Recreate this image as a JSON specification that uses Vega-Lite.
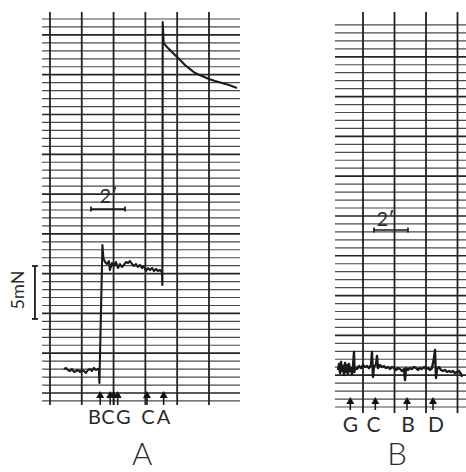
{
  "$schema": "https://vega.github.io/schema/vega-lite/v6.json",
  "background": "white",
  "padding": {"left": 10, "top": 11, "right": 0, "bottom": 0},
  "spacing": 95,
  "bounds": "flush",
  "config": {
    "view": {"stroke": null},
    "text": {"font": "Lato", "fontWeight": 400, "color": "#2a2a2a"}
  },
  "datasets": {
    "vA": [{"t": 2}, {"t": 4}, {"t": 6}, {"t": 8}, {"t": 10}, {"t": 12}],
    "vB": [{"t": 2}, {"t": 4}, {"t": 6}, {"t": 8}],
    "hA": [
      {"f": 0, "kind": "minor"}, {"f": 0.75, "kind": "major"}, {"f": 1.5, "kind": "minor"}, {"f": 2.25, "kind": "minor"}, {"f": 3, "kind": "minor"},
      {"f": 3.75, "kind": "minor"}, {"f": 4.5, "kind": "major"}, {"f": 5.25, "kind": "minor"}, {"f": 6, "kind": "minor"}, {"f": 6.75, "kind": "minor"},
      {"f": 7.5, "kind": "minor"}, {"f": 8.25, "kind": "major"}, {"f": 9, "kind": "minor"}, {"f": 9.75, "kind": "minor"}, {"f": 10.5, "kind": "minor"},
      {"f": 11.25, "kind": "minor"}, {"f": 12, "kind": "major"}, {"f": 12.75, "kind": "minor"}, {"f": 13.5, "kind": "minor"}, {"f": 14.25, "kind": "minor"},
      {"f": 15, "kind": "minor"}, {"f": 15.75, "kind": "major"}, {"f": 16.5, "kind": "minor"}, {"f": 17.25, "kind": "minor"}, {"f": 18, "kind": "minor"},
      {"f": 18.75, "kind": "minor"}, {"f": 19.5, "kind": "major"}, {"f": 20.25, "kind": "minor"}, {"f": 21, "kind": "minor"}, {"f": 21.75, "kind": "minor"},
      {"f": 22.5, "kind": "minor"}, {"f": 23.25, "kind": "major"}, {"f": 24, "kind": "minor"}, {"f": 24.75, "kind": "minor"}, {"f": 25.5, "kind": "minor"},
      {"f": 26.25, "kind": "minor"}, {"f": 27, "kind": "major"}, {"f": 27.75, "kind": "minor"}, {"f": 28.5, "kind": "minor"}, {"f": 29.25, "kind": "minor"},
      {"f": 30, "kind": "minor"}, {"f": 30.75, "kind": "major"}, {"f": 31.5, "kind": "minor"}, {"f": 32.25, "kind": "minor"}, {"f": 33, "kind": "minor"},
      {"f": 33.75, "kind": "minor"}, {"f": 34.5, "kind": "major"}, {"f": 35.25, "kind": "minor"}, {"f": 36, "kind": "minor"}
    ],
    "hB": [
      {"f": 0, "kind": "minor"}, {"f": 0.75, "kind": "minor"}, {"f": 1.5, "kind": "minor"}, {"f": 2.25, "kind": "minor"}, {"f": 3, "kind": "major"},
      {"f": 3.75, "kind": "minor"}, {"f": 4.5, "kind": "minor"}, {"f": 5.25, "kind": "minor"}, {"f": 6, "kind": "minor"}, {"f": 6.75, "kind": "major"},
      {"f": 7.5, "kind": "minor"}, {"f": 8.25, "kind": "minor"}, {"f": 9, "kind": "minor"}, {"f": 9.75, "kind": "minor"}, {"f": 10.5, "kind": "major"},
      {"f": 11.25, "kind": "minor"}, {"f": 12, "kind": "minor"}, {"f": 12.75, "kind": "minor"}, {"f": 13.5, "kind": "minor"}, {"f": 14.25, "kind": "major"},
      {"f": 15, "kind": "minor"}, {"f": 15.75, "kind": "minor"}, {"f": 16.5, "kind": "minor"}, {"f": 17.25, "kind": "minor"}, {"f": 18, "kind": "major"},
      {"f": 18.75, "kind": "minor"}, {"f": 19.5, "kind": "minor"}, {"f": 20.25, "kind": "minor"}, {"f": 21, "kind": "minor"}, {"f": 21.75, "kind": "major"},
      {"f": 22.5, "kind": "minor"}, {"f": 23.25, "kind": "minor"}, {"f": 24, "kind": "minor"}, {"f": 24.75, "kind": "minor"}, {"f": 25.5, "kind": "major"},
      {"f": 26.25, "kind": "minor"}, {"f": 27, "kind": "minor"}, {"f": 27.75, "kind": "minor"}, {"f": 28.5, "kind": "minor"}, {"f": 29.25, "kind": "major"},
      {"f": 30, "kind": "minor"}, {"f": 30.75, "kind": "minor"}, {"f": 31.5, "kind": "minor"}, {"f": 32.25, "kind": "minor"}, {"f": 33, "kind": "major"},
      {"f": 33.75, "kind": "minor"}, {"f": 34.5, "kind": "minor"}, {"f": 35.25, "kind": "minor"}, {"f": 36, "kind": "minor"}
    ]
  },
  "hconcat": [
    {
      "width": 198,
      "height": 393,
      "layer": [
        {
          "data": {"name": "hA"},
          "transform": [{"filter": "datum.kind == 'minor'"}],
          "mark": {"type": "rule", "color": "#4a4a4a", "strokeWidth": 1.2},
          "encoding": {"y": {"field": "f", "type": "quantitative", "scale": {"domain": [-0.38, 36.66], "nice": false, "zero": false}, "axis": null}}
        },
        {
          "data": {"name": "hA"},
          "transform": [{"filter": "datum.kind == 'major'"}],
          "mark": {"type": "rule", "color": "#252525", "strokeWidth": 1.7},
          "encoding": {"y": {"field": "f", "type": "quantitative", "axis": null}}
        },
        {
          "data": {"name": "vA"},
          "mark": {"type": "rule", "color": "#222222", "strokeWidth": 1.8},
          "encoding": {"x": {"field": "t", "type": "quantitative", "scale": {"domain": [1.5, 13.95], "nice": false, "zero": false}, "axis": null}}
        },
        {
          "data": {"values": [
            {"t": 2.88, "f": 3.02}, {"t": 3.01, "f": 3.11}, {"t": 3.13, "f": 2.92}, {"t": 3.26, "f": 2.83},
            {"t": 3.38, "f": 3.02}, {"t": 3.51, "f": 2.73}, {"t": 3.64, "f": 2.83}, {"t": 3.76, "f": 2.92},
            {"t": 3.89, "f": 2.73}, {"t": 4.01, "f": 2.92}, {"t": 4.14, "f": 2.83}, {"t": 4.26, "f": 2.64},
            {"t": 4.39, "f": 2.92}, {"t": 4.52, "f": 3.02}, {"t": 4.64, "f": 2.83}, {"t": 4.77, "f": 3.11},
            {"t": 4.89, "f": 2.92}, {"t": 5.02, "f": 3.02}, {"t": 5.08, "f": 2.92}, {"t": 5.11, "f": 1.70},
            {"t": 5.30, "f": 14.70}, {"t": 5.36, "f": 13.47}, {"t": 5.46, "f": 13.10}, {"t": 5.58, "f": 12.91},
            {"t": 5.71, "f": 13.19}, {"t": 5.77, "f": 12.34}, {"t": 5.90, "f": 13.00}, {"t": 6.03, "f": 12.72},
            {"t": 6.15, "f": 13.10}, {"t": 6.28, "f": 12.53}, {"t": 6.40, "f": 12.91}, {"t": 6.53, "f": 12.63},
            {"t": 6.65, "f": 12.82}, {"t": 6.78, "f": 13.10}, {"t": 6.91, "f": 13.00}, {"t": 7.03, "f": 13.19},
            {"t": 7.16, "f": 12.91}, {"t": 7.28, "f": 12.72}, {"t": 7.41, "f": 12.91}, {"t": 7.53, "f": 12.63},
            {"t": 7.66, "f": 12.82}, {"t": 7.79, "f": 12.53}, {"t": 7.91, "f": 12.72}, {"t": 8.04, "f": 12.25},
            {"t": 8.16, "f": 12.53}, {"t": 8.29, "f": 12.34}, {"t": 8.42, "f": 12.53}, {"t": 8.54, "f": 12.25},
            {"t": 8.67, "f": 12.44}, {"t": 8.79, "f": 12.25}, {"t": 8.92, "f": 12.34}, {"t": 9.04, "f": 12.15},
            {"t": 9.07, "f": 10.93}, {"t": 9.09, "f": 35.71}, {"t": 9.15, "f": 33.73}, {"t": 9.42, "f": 33.26},
            {"t": 9.86, "f": 32.60}, {"t": 10.18, "f": 32.13}, {"t": 10.49, "f": 31.66}, {"t": 10.81, "f": 31.28},
            {"t": 11.12, "f": 30.91}, {"t": 11.56, "f": 30.62}, {"t": 12.00, "f": 30.34}, {"t": 12.38, "f": 30.15},
            {"t": 12.82, "f": 29.96}, {"t": 13.26, "f": 29.77}, {"t": 13.76, "f": 29.49}
          ]},
          "mark": {"type": "line", "color": "#1a1a1a", "strokeWidth": 2.1, "strokeJoin": "round"},
          "encoding": {"x": {"field": "t", "type": "quantitative", "axis": null}, "y": {"field": "f", "type": "quantitative", "axis": null}}
        },
        {
          "data": {"values": [{"t": 5.16}, {"t": 5.79}, {"t": 6.01}, {"t": 6.26}, {"t": 8.10}, {"t": 9.15}]},
          "mark": {"type": "rule", "color": "#1a1a1a", "strokeWidth": 1.6},
          "encoding": {"x": {"field": "t", "type": "quantitative", "axis": null}, "y": {"datum": 0.47, "type": "quantitative", "axis": null}, "y2": {"datum": -0.38}}
        },
        {
          "data": {"values": [{"t": 5.16}, {"t": 5.79}, {"t": 6.01}, {"t": 6.26}, {"t": 8.10}, {"t": 9.15}]},
          "mark": {"type": "point", "shape": "triangle-up", "filled": true, "size": 65, "color": "#111111", "opacity": 1},
          "encoding": {"x": {"field": "t", "type": "quantitative", "axis": null}, "y": {"datum": 0.62, "type": "quantitative", "axis": null}}
        },
        {
          "data": {"values": [{"t": 4.80, "label": "B"}, {"t": 5.65, "label": "C"}, {"t": 6.62, "label": "G"}, {"t": 8.16, "label": "C"}, {"t": 9.14, "label": "A"}]},
          "mark": {"type": "text", "fontSize": 20, "baseline": "alphabetic", "align": "center"},
          "encoding": {"x": {"field": "t", "type": "quantitative", "axis": null}, "y": {"datum": -2.17, "type": "quantitative", "axis": null}, "text": {"field": "label"}}
        },
        {
          "data": {"values": [{"panel": "A"}]},
          "mark": {"type": "text", "fontSize": 31, "fontWeight": 300, "baseline": "bottom", "align": "center"},
          "encoding": {"x": {"datum": 7.79, "type": "quantitative", "axis": null}, "y": {"datum": -6.69, "type": "quantitative", "axis": null}, "text": {"field": "panel"}}
        },
        {
          "data": {"values": [{"t": 4.58, "t2": 6.72}]},
          "mark": {"type": "rule", "color": "#1a1a1a", "strokeWidth": 1.7},
          "encoding": {"x": {"field": "t", "type": "quantitative", "axis": null}, "x2": {"field": "t2"}, "y": {"datum": 18.09, "type": "quantitative", "axis": null}}
        },
        {
          "data": {"values": [{"t": 4.58}, {"t": 6.72}]},
          "mark": {"type": "rule", "color": "#1a1a1a", "strokeWidth": 1.7},
          "encoding": {"x": {"field": "t", "type": "quantitative", "axis": null}, "y": {"datum": 18.33, "type": "quantitative", "axis": null}, "y2": {"datum": 17.85}}
        },
        {
          "data": {"values": [{"t": 5.68, "label": "2′"}]},
          "mark": {"type": "text", "fontSize": 20, "baseline": "alphabetic", "align": "center"},
          "encoding": {"x": {"field": "t", "type": "quantitative", "axis": null}, "y": {"datum": 18.66, "type": "quantitative", "axis": null}, "text": {"field": "label"}}
        },
        {
          "data": {"values": [{"f": 12.72, "f2": 7.73}]},
          "mark": {"type": "rule", "color": "#1a1a1a", "strokeWidth": 1.8},
          "encoding": {"x": {"datum": 1.057, "type": "quantitative", "axis": null}, "y": {"field": "f", "type": "quantitative", "axis": null}, "y2": {"field": "f2"}}
        },
        {
          "data": {"values": [{"f": 12.72}, {"f": 7.73}]},
          "mark": {"type": "rule", "color": "#1a1a1a", "strokeWidth": 1.8},
          "encoding": {"x": {"datum": 0.87, "type": "quantitative", "axis": null}, "x2": {"datum": 1.245}, "y": {"field": "f", "type": "quantitative", "axis": null}}
        },
        {
          "data": {"values": [{"label": "5mN"}]},
          "mark": {"type": "text", "fontSize": 18, "baseline": "middle", "align": "center", "angle": 270},
          "encoding": {"x": {"datum": 0.082, "type": "quantitative", "axis": null}, "y": {"datum": 10.46, "type": "quantitative", "axis": null}, "text": {"field": "label"}}
        }
      ]
    },
    {
      "width": 132,
      "height": 401,
      "layer": [
        {
          "data": {"name": "hB"},
          "transform": [{"filter": "datum.kind == 'minor'"}],
          "mark": {"type": "rule", "color": "#4a4a4a", "strokeWidth": 1.2},
          "encoding": {"y": {"field": "f", "type": "quantitative", "scale": {"domain": [-0.565, 37.22], "nice": false, "zero": false}, "axis": null}}
        },
        {
          "data": {"name": "hB"},
          "transform": [{"filter": "datum.kind == 'major'"}],
          "mark": {"type": "rule", "color": "#252525", "strokeWidth": 1.7},
          "encoding": {"y": {"field": "f", "type": "quantitative", "axis": null}}
        },
        {
          "data": {"name": "vB"},
          "mark": {"type": "rule", "color": "#222222", "strokeWidth": 1.8},
          "encoding": {"x": {"field": "t", "type": "quantitative", "scale": {"domain": [0.222, 8.603], "nice": false, "zero": false}, "axis": null}}
        },
        {
          "data": {"values": [
            {"t": 0.413, "f": 3.49}, {"t": 0.476, "f": 4.05}, {"t": 0.540, "f": 3.20}, {"t": 0.603, "f": 4.24},
            {"t": 0.667, "f": 3.39}, {"t": 0.730, "f": 3.86}, {"t": 0.794, "f": 3.02}, {"t": 0.857, "f": 4.15},
            {"t": 0.921, "f": 3.30}, {"t": 0.984, "f": 3.96}, {"t": 1.048, "f": 3.11}, {"t": 1.111, "f": 4.05},
            {"t": 1.175, "f": 3.39}, {"t": 1.238, "f": 3.67}, {"t": 1.302, "f": 3.02}, {"t": 1.365, "f": 3.86},
            {"t": 1.429, "f": 5.18}, {"t": 1.460, "f": 3.30}, {"t": 1.492, "f": 3.77}, {"t": 1.619, "f": 3.58},
            {"t": 1.746, "f": 3.86}, {"t": 1.873, "f": 3.67}, {"t": 2.000, "f": 3.96}, {"t": 2.127, "f": 3.77},
            {"t": 2.254, "f": 3.86}, {"t": 2.381, "f": 3.67}, {"t": 2.508, "f": 3.96}, {"t": 2.571, "f": 5.18},
            {"t": 2.635, "f": 2.83}, {"t": 2.698, "f": 3.86}, {"t": 2.825, "f": 3.96}, {"t": 2.889, "f": 4.81},
            {"t": 2.952, "f": 3.67}, {"t": 3.079, "f": 3.96}, {"t": 3.206, "f": 3.77}, {"t": 3.333, "f": 3.86},
            {"t": 3.460, "f": 3.67}, {"t": 3.587, "f": 3.77}, {"t": 3.714, "f": 3.58}, {"t": 3.841, "f": 3.77},
            {"t": 3.968, "f": 3.67}, {"t": 4.095, "f": 3.49}, {"t": 4.222, "f": 3.67}, {"t": 4.349, "f": 3.58},
            {"t": 4.476, "f": 3.39}, {"t": 4.603, "f": 3.58}, {"t": 4.667, "f": 2.54}, {"t": 4.730, "f": 3.67},
            {"t": 4.857, "f": 3.49}, {"t": 4.984, "f": 3.67}, {"t": 5.111, "f": 3.58}, {"t": 5.238, "f": 3.77},
            {"t": 5.365, "f": 3.67}, {"t": 5.492, "f": 3.49}, {"t": 5.619, "f": 3.67}, {"t": 5.746, "f": 3.58},
            {"t": 5.873, "f": 3.77}, {"t": 6.000, "f": 3.58}, {"t": 6.127, "f": 3.67}, {"t": 6.254, "f": 3.49},
            {"t": 6.381, "f": 3.67}, {"t": 6.508, "f": 4.62}, {"t": 6.571, "f": 5.37}, {"t": 6.635, "f": 2.73},
            {"t": 6.698, "f": 3.58}, {"t": 6.825, "f": 3.77}, {"t": 6.952, "f": 3.49}, {"t": 7.079, "f": 3.39},
            {"t": 7.206, "f": 3.49}, {"t": 7.333, "f": 3.30}, {"t": 7.460, "f": 3.39}, {"t": 7.587, "f": 3.30},
            {"t": 7.714, "f": 3.39}, {"t": 7.841, "f": 3.20}, {"t": 7.968, "f": 3.30}, {"t": 8.095, "f": 3.39},
            {"t": 8.222, "f": 3.11}, {"t": 8.286, "f": 2.83}
          ]},
          "mark": {"type": "line", "color": "#1a1a1a", "strokeWidth": 2.4, "strokeJoin": "round"},
          "encoding": {"x": {"field": "t", "type": "quantitative", "axis": null}, "y": {"field": "f", "type": "quantitative", "axis": null}}
        },
        {
          "data": {"values": [{"t": 1.194}, {"t": 2.781}, {"t": 4.794}, {"t": 6.444}]},
          "mark": {"type": "rule", "color": "#1a1a1a", "strokeWidth": 1.6},
          "encoding": {"x": {"field": "t", "type": "quantitative", "axis": null}, "y": {"datum": 0.47, "type": "quantitative", "axis": null}, "y2": {"datum": -0.28}}
        },
        {
          "data": {"values": [{"t": 1.194}, {"t": 2.781}, {"t": 4.794}, {"t": 6.444}]},
          "mark": {"type": "point", "shape": "triangle-up", "filled": true, "size": 65, "color": "#111111", "opacity": 1},
          "encoding": {"x": {"field": "t", "type": "quantitative", "axis": null}, "y": {"datum": 0.62, "type": "quantitative", "axis": null}}
        },
        {
          "data": {"values": [{"t": 1.206, "label": "G"}, {"t": 2.667, "label": "C"}, {"t": 4.857, "label": "B"}, {"t": 6.635, "label": "D"}]},
          "mark": {"type": "text", "fontSize": 21, "baseline": "alphabetic", "align": "center"},
          "encoding": {"x": {"field": "t", "type": "quantitative", "axis": null}, "y": {"datum": -2.36, "type": "quantitative", "axis": null}, "text": {"field": "label"}}
        },
        {
          "data": {"values": [{"panel": "B"}]},
          "mark": {"type": "text", "fontSize": 31, "fontWeight": 300, "baseline": "bottom", "align": "center"},
          "encoding": {"x": {"datum": 4.16, "type": "quantitative", "axis": null}, "y": {"datum": -6.12, "type": "quantitative", "axis": null}, "text": {"field": "panel"}}
        },
        {
          "data": {"values": [{"t": 2.698, "t2": 4.857}]},
          "mark": {"type": "rule", "color": "#1a1a1a", "strokeWidth": 1.7},
          "encoding": {"x": {"field": "t", "type": "quantitative", "axis": null}, "x2": {"field": "t2"}, "y": {"datum": 16.68, "type": "quantitative", "axis": null}}
        },
        {
          "data": {"values": [{"t": 2.698}, {"t": 4.857}]},
          "mark": {"type": "rule", "color": "#1a1a1a", "strokeWidth": 1.7},
          "encoding": {"x": {"field": "t", "type": "quantitative", "axis": null}, "y": {"datum": 16.92, "type": "quantitative", "axis": null}, "y2": {"datum": 16.44}}
        },
        {
          "data": {"values": [{"t": 3.43, "label": "2′"}]},
          "mark": {"type": "text", "fontSize": 20, "baseline": "alphabetic", "align": "center"},
          "encoding": {"x": {"field": "t", "type": "quantitative", "axis": null}, "y": {"datum": 17.1, "type": "quantitative", "axis": null}, "text": {"field": "label"}}
        }
      ]
    }
  ]
}
